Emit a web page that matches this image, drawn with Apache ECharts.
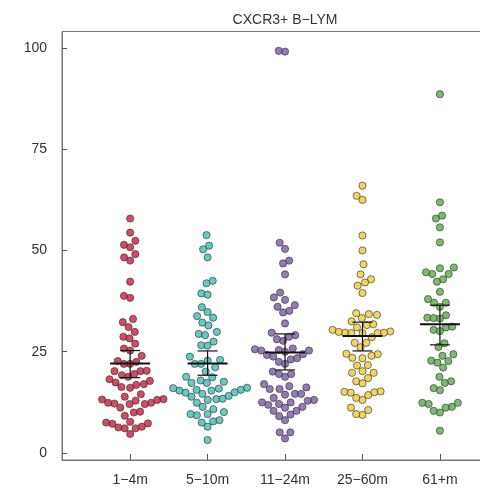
<!DOCTYPE html>
<html><head><meta charset="utf-8">
<script src="https://cdn.jsdelivr.net/npm/echarts@6/dist/echarts.min.js"></script>
<style>html,body{margin:0;padding:0;background:#fff}#c{width:480px;height:488px}</style>
</head><body><div id="c"></div><script>
const title = 'CXCR3+ B\u2212LYM';
const categories = ['1\u22124m', '5\u221210m', '11\u221224m', '25\u221260m', '61+m'];
const yTicks = [0, 25, 50, 75, 100];

const g1 = [57.9,54.4,52.4,51.4,50.8,49.1,48.3,47.5,42.3,38.3,38.8,33.1,32.3,31.1,29.9,28.7,28.3,27.0,25.8,25.3,24.0,22.5,22.0,22.0,22.7,20.2,19.5,20.3,19.2,18.2,17.4,16.8,16.1,16.3,17.0,17.8,18.8,20.2,14.5,13.1,12.4,12.1,11.2,13.3,12.9,13.2,13.9,12.1,12.2,12.4,10.0,10.2,9.2,7.5,7.2,6.3,6.1,6.1,6.5,7.3,7.7,4.7];
const g2 = [53.8,51.2,50.3,48.3,41.9,42.5,39.4,39.1,36.0,33.8,33.4,34.8,31.5,32.2,29.4,29.1,29.9,27.5,26.6,26.5,21.2,22.8,22.0,22.0,23.0,23.8,20.1,18.7,17.6,17.3,17.3,17.9,18.8,15.6,14.9,15.6,15.4,15.4,16.1,16.0,15.9,13.9,13.3,13.1,15.0,12.4,13.4,14.1,14.6,11.4,10.8,9.6,9.3,7.8,7.5,6.5,8.1,9.6,10.1,3.2];
const g3 = [99.1,99.3,51.9,50.4,47.5,46.8,44.1,39.6,38.4,37.8,36.1,36.5,35.1,34.7,32.0,29.7,28.7,27.7,28.1,29.1,25.3,24.4,25.6,25.3,25.8,25.4,25.0,24.2,22.5,23.1,23.4,22.0,23.8,20.1,18.8,19.5,19.5,16.2,16.5,15.8,14.6,14.4,13.1,12.1,12.9,13.6,14.6,15.8,17.0,11.9,11.2,10.4,9.5,8.1,9.1,10.4,11.4,12.5,12.5,5.1,5.1,3.6];
const g4 = [66.0,62.5,63.5,53.7,50.0,46.6,44.1,42.9,42.1,41.3,39.5,34.3,32.5,33.3,34.1,34.5,31.0,31.6,31.8,29.7,29.6,29.6,30.4,30.0,29.6,29.7,29.9,27.2,27.2,28.6,26.1,24.5,24.4,23.5,23.4,24.0,21.6,21.7,20.2,19.8,19.8,18.5,17.7,17.2,15.2,15.0,13.1,13.6,14.3,14.9,15.1,10.6,9.4,9.6,11.2];
const g5 = [88.6,61.9,57.9,58.6,55.7,52.0,45.8,45.6,44.2,42.9,42.3,44.2,44.6,39.8,37.1,37.1,38.0,36.1,33.4,33.2,34.0,33.3,30.4,30.1,31.0,31.2,26.2,27.1,24.4,22.8,22.7,21.1,22.3,24.0,17.7,17.3,15.5,16.0,18.8,12.4,11.4,11.2,10.0,10.4,12.1,12.4,5.5];

const medians = [22.1, 22.1, 24.8, 28.9, 31.8];
const errLow  = [18.6, 19.2, 20.5, 25.2, 26.7];
const errHigh = [25.3, 25.2, 29.4, 32.3, 36.5];

const groups = [g1, g2, g3, g4, g5];
const colors = ['#C81E3C', '#3DBDB5', '#7A5AA2', '#EFCB35', '#5AAA48'];

// layout constants
const W = 480, H = 488;
const gridLeft = 62, gridWidth = 436, gridTop = 31.5, gridBottom = 28;
const xMin = 0.12, xMax = 5.75, yMin = -1.73, yMax = 104.07;
const pxPerX = gridWidth / (xMax - xMin);
const pxPerY = (H - gridTop - gridBottom) / (yMax - yMin);
const collA = 6.3, collB = 11.5;   // swarm collision ellipse (px)

// beeswarm layout computed from values
function swarm(vals) {
  const idx = vals.map((v, i) => i).sort((a, b) => vals[a] - vals[b]);
  const placed = [];
  const off = new Array(vals.length).fill(0);
  const hit = (p, c, y) => {
    const dx = (p.x - c) / collA, dy = (p.y - y) / collB;
    return dx * dx + dy * dy < 0.999;
  };
  idx.forEach(i => {
    const y = vals[i] * pxPerY;
    const near = placed.filter(p => Math.abs(p.y - y) < collB);
    const cands = [0];
    near.forEach(p => {
      const r = (p.y - y) / collB;
      const dx = collA * Math.sqrt(1 - r * r);
      cands.push(p.x - dx, p.x + dx);
    });
    cands.sort((a, b) => (Math.abs(a) - Math.abs(b)) || (a - b));
    let best = 0;
    for (const c of cands) {
      if (near.every(p => !hit(p, c, y))) { best = c; break; }
    }
    placed.push({ x: best, y: y });
    off[i] = best;
  });
  return off;
}

const series = groups.map((vals, gi) => {
  const off = swarm(vals);
  return {
    type: 'scatter',
    symbolSize: 7.2,
    itemStyle: { color: colors[gi], borderColor: '#333', borderWidth: 0.8 },
    data: vals.map((v, i) => [gi + 1 + off[i] / pxPerX, v]),
    z: 2,
    silent: true
  };
});

series.push({
  type: 'custom',
  z: 5,
  silent: true,
  data: medians.map((m, i) => [i + 1, m, errLow[i], errHigh[i]]),
  renderItem: function (params, api) {
    const x = api.value(0);
    const pm = api.coord([x, api.value(1)]);
    const pl = api.coord([x, api.value(2)]);
    const ph = api.coord([x, api.value(3)]);
    const st = { stroke: '#111', lineWidth: 1.2 };
    return {
      type: 'group',
      children: [
        { type: 'line', shape: { x1: pm[0] - 20, y1: pm[1], x2: pm[0] + 20, y2: pm[1] }, style: { stroke: '#111', lineWidth: 2 } },
        { type: 'line', shape: { x1: pl[0], y1: pl[1], x2: ph[0], y2: ph[1] }, style: st },
        { type: 'line', shape: { x1: pl[0] - 10, y1: pl[1], x2: pl[0] + 10, y2: pl[1] }, style: st },
        { type: 'line', shape: { x1: ph[0] - 10, y1: ph[1], x2: ph[0] + 10, y2: ph[1] }, style: st }
      ]
    };
  }
});

const chart = echarts.init(document.getElementById('c'), null, { renderer: 'canvas' });
chart.setOption({
  animation: false,
  backgroundColor: '#fff',
  textStyle: { fontFamily: 'Liberation Sans, Arial, sans-serif' },
  title: {
    text: title, left: 280, top: 8, textAlign: 'center',
    textStyle: { fontSize: 14, fontWeight: 'normal', color: '#333', fontFamily: 'Liberation Sans, Arial, sans-serif' }
  },
  grid: {
    left: gridLeft, width: gridWidth, top: gridTop, bottom: gridBottom,
    outerBoundsMode: 'none', containLabel: false,
    show: true, borderColor: '#777', borderWidth: 1, backgroundColor: 'transparent'
  },
  xAxis: {
    type: 'value', min: xMin, max: xMax,
    splitLine: { show: false },
    axisLine: { show: true, onZero: false, lineStyle: { color: '#777', width: 1 } },
    axisTick: { show: true, inside: true, length: 6, lineStyle: { color: '#555' }, customValues: [1, 2, 3, 4, 5] },
    axisLabel: {
      customValues: [1, 2, 3, 4, 5], margin: 13, fontSize: 14, color: '#333',
      formatter: v => categories[Math.round(v) - 1]
    }
  },
  yAxis: {
    type: 'value', min: yMin, max: yMax,
    splitLine: { show: false },
    axisLine: { show: true, onZero: false, lineStyle: { color: '#777', width: 1 } },
    axisTick: { show: true, inside: true, length: 5, lineStyle: { color: '#555' }, customValues: yTicks },
    axisLabel: { customValues: yTicks, margin: 15, fontSize: 14, color: '#333' }
  },
  series: series
});
</script></body></html>
